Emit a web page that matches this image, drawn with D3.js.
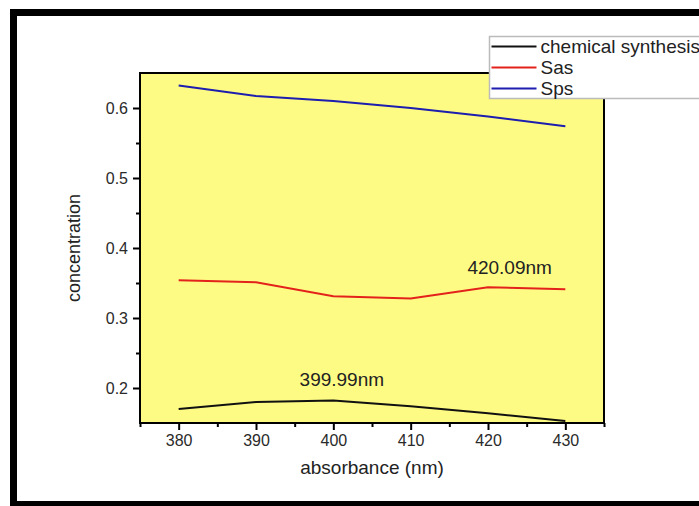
<!DOCTYPE html>
<html>
<head>
<meta charset="utf-8">
<script src="https://cdn.jsdelivr.net/npm/d3@7"></script>
<style>
  body { margin: 0; background: #fff; }
  svg { display: block; font-family: "Liberation Sans", Arial, sans-serif; }
</style>
</head>
<body>
<div id="chart"></div>
<script>
// wavelengths (x) and the three series
const wavelengths = [380, 390, 400, 410, 420, 430]
const chemical = [0.170, 0.180, 0.182, 0.174, 0.164, 0.153]
const sas = [0.354, 0.351, 0.331, 0.328, 0.344, 0.341]
const sps = [0.632, 0.617, 0.610, 0.600, 0.588, 0.574]

const seriesNames = ["chemical synthesis", "Sas", "Sps"]
const seriesColors = ["#111111", "#e3221c", "#1d1daf"]

const xTicks = [380, 390, 400, 410, 420, 430]
const xMinor = [375, 385, 395, 405, 415, 425, 435]
const yTicks = [0.2, 0.3, 0.4, 0.5, 0.6]
const yMinor = [0.25, 0.35, 0.45, 0.55]

// peak labels, placed in data units
const notes = [
    { text: "399.99nm", x: 401.1, y: 0.2024 },
    { text: "420.09nm", x: 422.8, y: 0.3624 }
]

const width = 699
const height = 506
const plot = { left: 140, right: 604, top: 73, bottom: 423 }
const font = "Liberation Sans, Arial, sans-serif"

const svg = d3.select("#chart")
    .append("svg")
    .attr("width", width)
    .attr("height", height)

// outer frame of the picture
svg.append("rect")
    .attr("x", 13.5).attr("y", 12.5)
    .attr("width", 720).attr("height", 492)
    .attr("fill", "none")
    .attr("stroke", "#000")
    .attr("stroke-width", 7)

const x = d3.scaleLinear().domain([375, 435]).range([plot.left, plot.right])
const y = d3.scaleLinear().domain([0.15, 0.65]).range([plot.bottom, plot.top])

svg.append("rect")
    .attr("x", plot.left).attr("y", plot.top)
    .attr("width", plot.right - plot.left)
    .attr("height", plot.bottom - plot.top)
    .attr("fill", "#fefb84")

// x axis
const gx = svg.append("g").attr("transform", `translate(0,${plot.bottom})`)
gx.call(d3.axisBottom(x).tickValues(xTicks).tickSize(7).tickPadding(5).tickFormat(d3.format("d")))
gx.append("g").call(d3.axisBottom(x).tickValues(xMinor).tickSize(4).tickFormat(""))
gx.selectAll(".domain").remove()
gx.selectAll("line").attr("stroke", "#000").attr("stroke-width", 2)
gx.selectAll("text").attr("font-size", 16).attr("fill", "#2a2a2a").attr("font-family", font)

// y axis
const gy = svg.append("g").attr("transform", `translate(${plot.left},0)`)
gy.call(d3.axisLeft(y).tickValues(yTicks).tickSize(7).tickPadding(5).tickFormat(d3.format(".1f")))
gy.append("g").call(d3.axisLeft(y).tickValues(yMinor).tickSize(4).tickFormat(""))
gy.selectAll(".domain").remove()
gy.selectAll("line").attr("stroke", "#000").attr("stroke-width", 2)
gy.selectAll("text").attr("font-size", 16).attr("fill", "#2a2a2a").attr("font-family", font)

// frame around plot area
svg.append("rect")
    .attr("x", plot.left).attr("y", plot.top)
    .attr("width", plot.right - plot.left)
    .attr("height", plot.bottom - plot.top)
    .attr("fill", "none")
    .attr("stroke", "#000")
    .attr("stroke-width", 2)

const line = d3.line()
    .x((d, i) => x(wavelengths[i]))
    .y(d => y(d))

const allSeries = [chemical, sas, sps]
svg.append("g")
    .selectAll("path")
    .data(allSeries)
    .join("path")
    .attr("fill", "none")
    .attr("stroke", (d, i) => seriesColors[i])
    .attr("stroke-width", 2)
    .attr("d", line)

svg.append("g")
    .selectAll("text")
    .data(notes)
    .join("text")
    .attr("x", d => x(d.x))
    .attr("y", d => y(d.y))
    .attr("text-anchor", "middle")
    .attr("font-size", 19)
    .attr("fill", "#222")
    .text(d => d.text)

// axis titles
svg.append("text")
    .attr("x", (plot.left + plot.right) / 2)
    .attr("y", 474)
    .attr("text-anchor", "middle")
    .attr("font-size", 19)
    .attr("fill", "#222")
    .text("absorbance (nm)")

svg.append("text")
    .attr("transform", `translate(80,${(plot.top + plot.bottom) / 2}) rotate(-90)`)
    .attr("text-anchor", "middle")
    .attr("font-size", 18)
    .attr("fill", "#222")
    .text("concentration")

// legend
const legend = svg.append("g").attr("transform", "translate(489.5,36.5)")
legend.append("rect")
    .attr("width", 230).attr("height", 62)
    .attr("fill", "#fff")
    .attr("stroke", "#bbb")
    .attr("stroke-width", 1.5)

const rows = legend.selectAll("g")
    .data(seriesNames)
    .join("g")
    .attr("transform", (d, i) => `translate(0,${10 + i * 21})`)
rows.append("line")
    .attr("x1", 2).attr("x2", 47)
    .attr("stroke", (d, i) => seriesColors[i])
    .attr("stroke-width", 2)
rows.append("text")
    .attr("x", 51).attr("dy", "0.35em")
    .attr("font-size", 19)
    .attr("fill", "#222")
    .text(d => d)
</script>
</body>
</html>
